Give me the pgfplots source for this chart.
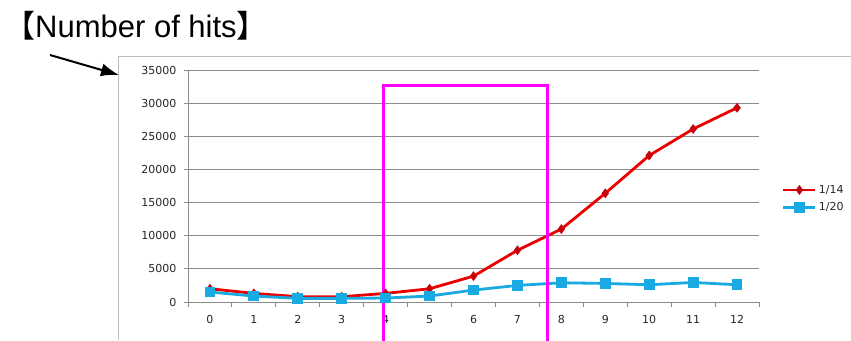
\documentclass[border=0pt]{standalone}
\usepackage{fontspec}
\setmainfont{DejaVu Sans}
\newfontfamily\arial{Liberation Sans}
\newfontfamily\cjk{Noto Sans CJK JP}
\usepackage{pgfplots}
\pgfplotsset{compat=1.18}
\usetikzlibrary{arrows.meta}
\definecolor{redline}{RGB}{235,0,0}
\definecolor{redmark}{RGB}{200,0,10}
\definecolor{blueline}{RGB}{25,170,225}
\definecolor{gridgray}{RGB}{140,140,140}
\definecolor{boxgray}{RGB}{190,190,190}
\definecolor{magentabox}{RGB}{255,0,255}
\begin{document}
\begin{tikzpicture}[x=1bp,y=1bp]
\path[use as bounding box] (0,0) rectangle (851,340);
\draw[boxgray, line width=1bp] (118,0) -- (118,284) -- (851,284);
\draw[-{Latex[length=18bp,width=13bp]}, line width=2bp] (50,285) -- (119,265);
\node[anchor=base west, inner sep=0] at (4,303) {\fontsize{31bp}{31bp}\selectfont{\cjk 【}{\arial Number of hits}{\cjk 】}};
\begin{axis}[
  at={(188bp,38bp)}, anchor=south west,
  scale only axis, width=571bp, height=232bp,
  clip=false,
  xmin=-0.5, xmax=12.5, ymin=0, ymax=35000,
  axis x line*=bottom, axis y line*=left,
  axis line style={gridgray, line width=1bp},
  xtick={0,...,12},
  minor xtick={-0.5,0.5,...,12.5},
  major x tick style={draw=none},
  minor x tick style={gridgray, line width=1bp},
  minor tick length=5bp,
  ytick={0,5000,...,35000},
  y tick style={gridgray, line width=1bp},
  major tick length=4bp,
  tick align=outside,
  ymajorgrids,
  grid style={gridgray, line width=1bp},
  scaled y ticks=false,
  /pgf/number format/assume math mode=true,
  /pgf/number format/1000 sep={},
  tick label style={font=\fontsize{11bp}{12bp}\selectfont, text=black!85},
  yticklabel style={xshift=-4bp},
  xticklabel style={yshift=-6bp},
  legend style={draw=none, fill=none, at={(1.04,0.445)}, anchor=west,
    font=\fontsize{11bp}{12bp}\selectfont, text=black!85, row sep=4bp, inner sep=0pt},
  legend cell align=left,
  legend image code/.code={\draw[mark repeat=2,mark phase=2,#1] plot coordinates {(0bp,0bp) (16bp,0bp) (32bp,0bp)};},
]
\addplot[redline, line width=2.8bp, mark=diamond*, mark size=4.5bp, mark options={fill=redmark, draw=redmark, line width=0.5bp}]
coordinates {(0,2000) (1,1300) (2,800) (3,800) (4,1300) (5,2000) (6,3900) (7,7800) (8,11000) (9,16400) (10,22100) (11,26100) (12,29300)};
\addlegendentry{1/14}
\addplot[blueline, line width=2.8bp, mark=square*, mark size=4bp, mark options={fill=blueline, draw=blueline}]
coordinates {(0,1500) (1,900) (2,550) (3,550) (4,600) (5,900) (6,1800) (7,2500) (8,2900) (9,2800) (10,2600) (11,2950) (12,2600)};
\addlegendentry{1/20}
\draw[magentabox, line width=3bp] (axis cs:3.94,-6000) -- (axis cs:3.94,32700) -- (axis cs:7.68,32700) -- (axis cs:7.68,-6000);
\end{axis}
\end{tikzpicture}
\end{document}
